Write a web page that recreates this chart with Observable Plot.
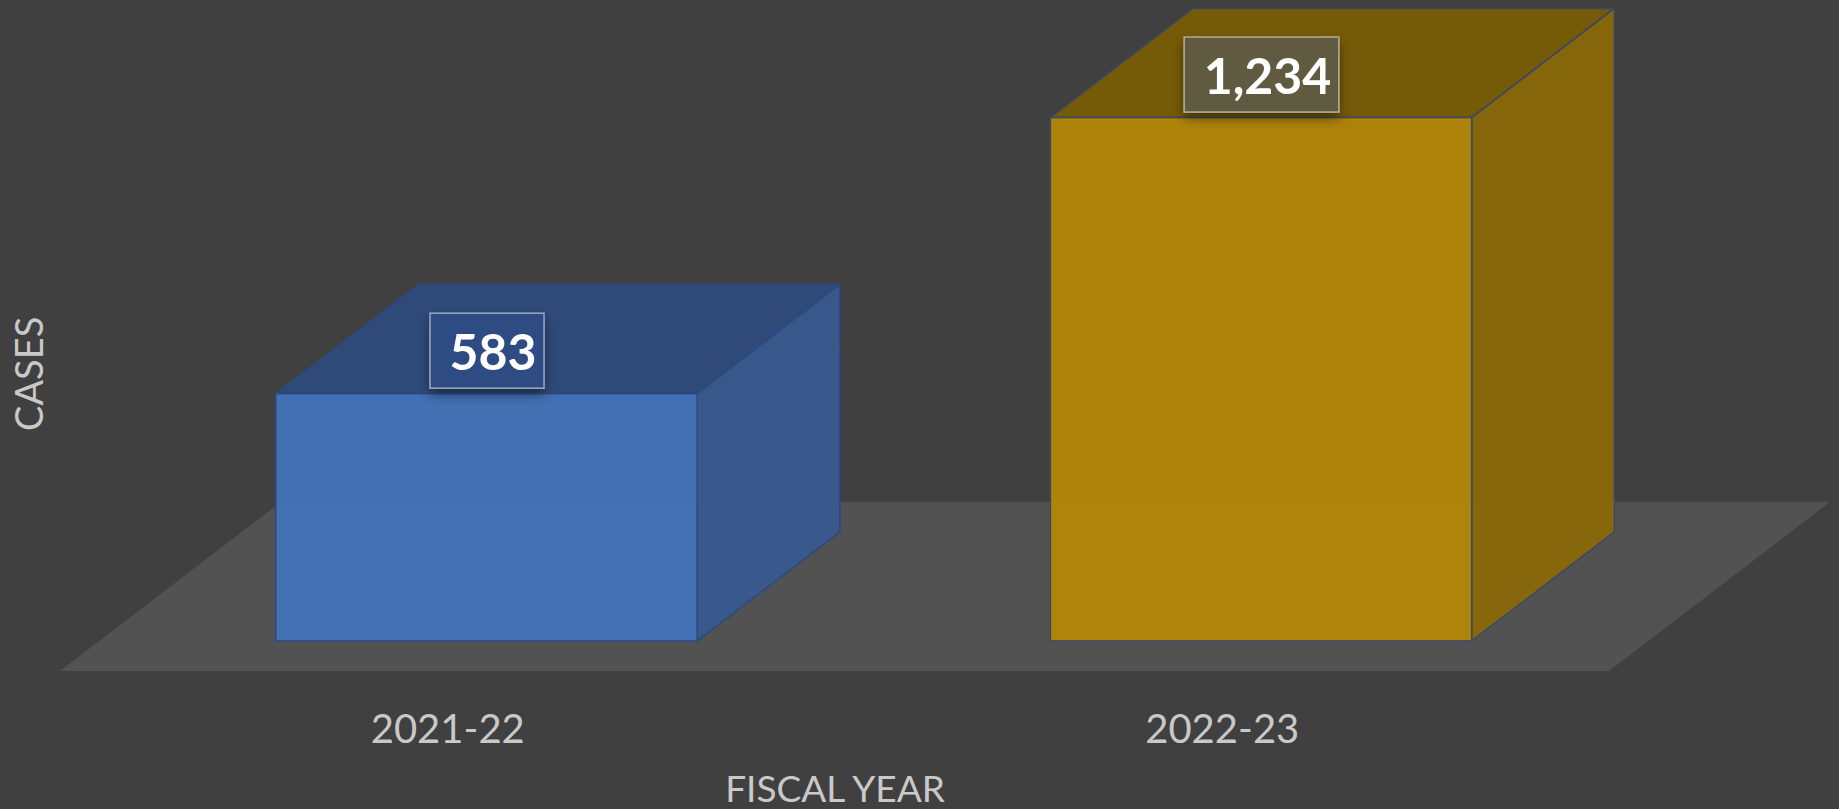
<!DOCTYPE html>
<html>
<head>
<meta charset="utf-8">
<script src="https://cdn.jsdelivr.net/npm/d3@7"></script>
<script src="https://cdn.jsdelivr.net/npm/@observablehq/plot@0.6"></script>
<style>
  html, body { margin: 0; padding: 0; background: #404040; overflow: hidden; }
  #chart svg { display: block; }
</style>
</head>
<body>
<div id="chart"></div>
<script>
// ---- data ----
const categories = ["2021-22", "2022-23"];
const cases = [583, 1234];
const xTitle = "FISCAL YEAR";
const yTitle = "CASES";

// ---- styles ----
const frontFill = ["#4471B8", "#B38607"];
const topFill   = ["#2E4A7B", "#775B05"];
const sideFill  = ["#38588E", "#896808"];
const edgeStroke = ["#2B4A80", "#3A4868"];
const boxFill   = ["#2F4C84", "#5E5A40"];

// ---- oblique 3D geometry (in scale units) ----
const DEPTH_X = 0.2856;   // x shift for full floor depth
const DEPTH_Y = 399;      // y shift for full floor depth
const T0 = 0.1775, T1 = 0.8225; // bar depth span within floor
const HALF = 0.272;       // half bar width

const fmt = d3.format(",");
const bars = categories.map((cat, i) => ({cat, i, v: cases[i], cx: i + 0.5}));

const floor = [0, 1].map(t => ({y: t * DEPTH_Y, x1: t * DEPTH_X, x2: categories.length + t * DEPTH_X}));

const front = bars.map(b => ({...b,
  x1: b.cx - HALF + T0 * DEPTH_X, x2: b.cx + HALF + T0 * DEPTH_X,
  y1: T0 * DEPTH_Y, y2: b.v + T0 * DEPTH_Y}));

const topFace = bars.flatMap(b => [T0, T1].map(t => ({cat: b.cat, i: b.i,
  y: b.v + t * DEPTH_Y, x1: b.cx - HALF + t * DEPTH_X, x2: b.cx + HALF + t * DEPTH_X})));

const sideFace = bars.flatMap(b => [T0, T1].map(t => ({cat: b.cat, i: b.i,
  x: b.cx + HALF + t * DEPTH_X, y1: t * DEPTH_Y, y2: b.v + t * DEPTH_Y})));

const hidden = bars.flatMap(b => {
  const bl0 = [b.cx - HALF + T0 * DEPTH_X, T0 * DEPTH_Y];
  const bl1 = [b.cx - HALF + T1 * DEPTH_X, T1 * DEPTH_Y];
  const br1 = [b.cx + HALF + T1 * DEPTH_X, T1 * DEPTH_Y];
  const tl1 = [b.cx - HALF + T1 * DEPTH_X, b.v + T1 * DEPTH_Y];
  return [[bl0, bl1], [bl1, br1], [bl1, tl1]].map(([p, q]) => ({i: b.i, x1: p[0], y1: p[1], x2: q[0], y2: q[1]}));
});

const plot = Plot.plot({
  width: 1839,
  height: 809,
  marginTop: 0,
  marginBottom: 138,
  marginLeft: 60,
  marginRight: 230,
  style: {background: "#404040", fontFamily: "Lato, 'Open Sans', sans-serif"},
  x: {domain: [0, categories.length], axis: null},
  y: {domain: [0, 1582], axis: null},
  color: {type: "identity"},
  marks: [
    Plot.areaX(floor, {y: "y", x1: "x1", x2: "x2", fill: "#535253"}),
    Plot.link(hidden, {x1: "x1", y1: "y1", x2: "x2", y2: "y2", stroke: d => edgeStroke[d.i], strokeOpacity: 0.8, strokeWidth: 1}),
    Plot.areaX(topFace, {y: "y", x1: "x1", x2: "x2", z: "cat", fill: d => topFill[d.i], stroke: d => edgeStroke[d.i], strokeWidth: 1.5, fillOpacity: 0.97}),
    Plot.areaY(sideFace, {x: "x", y1: "y1", y2: "y2", z: "cat", fill: d => sideFill[d.i], stroke: d => edgeStroke[d.i], strokeWidth: 1.5, fillOpacity: 0.96}),
    Plot.rect(front, {x1: "x1", x2: "x2", y1: "y1", y2: "y2", fill: d => frontFill[d.i], stroke: d => edgeStroke[d.i], strokeWidth: 1.5, fillOpacity: 0.96}),
    Plot.axisX({ticks: bars.map(b => b.cx), tickFormat: d => categories[Math.floor(d)], tickSize: 0, tickPadding: 43, fontSize: 40, color: "#C9C9C9", label: null}),
    Plot.text([xTitle], {text: d => d, frameAnchor: "bottom", dy: 119, lineAnchor: "middle", fontSize: 37, fill: "#C9C9C9"}),
    Plot.text([yTitle], {text: d => d, frameAnchor: "left", rotate: -90, dx: -30, dy: 95, lineAnchor: "middle", fontSize: 38, fill: "#C9C9C9"}),
    Plot.text(bars, {x: b => b.cx + T0 * DEPTH_X, y: b => b.v + T0 * DEPTH_Y, text: b => fmt(b.v),
      fontSize: 50, fontWeight: "bold", fill: "white", dx: 6, dy: -40, lineAnchor: "middle"})
  ]
});

document.getElementById("chart").append(plot);

// label boxes behind value labels
const svg = d3.select(plot);
const defs = svg.insert("defs", ":first-child");
const f = defs.append("filter").attr("id", "boxShadow").attr("x", "-30%").attr("y", "-30%").attr("width", "160%").attr("height", "170%");
f.append("feDropShadow").attr("dx", 0).attr("dy", 6).attr("stdDeviation", 6).attr("flood-color", "#000").attr("flood-opacity", 0.45);

const labelTexts = cases.map(fmt);
svg.selectAll("text").each(function () {
  const idx = labelTexts.indexOf(this.textContent);
  if (idx < 0) return;
  const bb = this.getBBox();
  const w = bb.width + 27, h = 75;
  const rect = document.createElementNS("http://www.w3.org/2000/svg", "rect");
  rect.setAttribute("x", -6 - w / 2);
  rect.setAttribute("y", -3.5 - h / 2);
  rect.setAttribute("width", w);
  rect.setAttribute("height", h);
  rect.setAttribute("fill", boxFill[idx]);
  rect.setAttribute("stroke", "rgba(255,255,255,0.5)");
  rect.setAttribute("stroke-width", 1.5);
  rect.setAttribute("filter", "url(#boxShadow)");
  const tr = this.getAttribute("transform");
  if (tr) rect.setAttribute("transform", tr);
  this.parentNode.insertBefore(rect, this);
});
</script>
</body>
</html>
